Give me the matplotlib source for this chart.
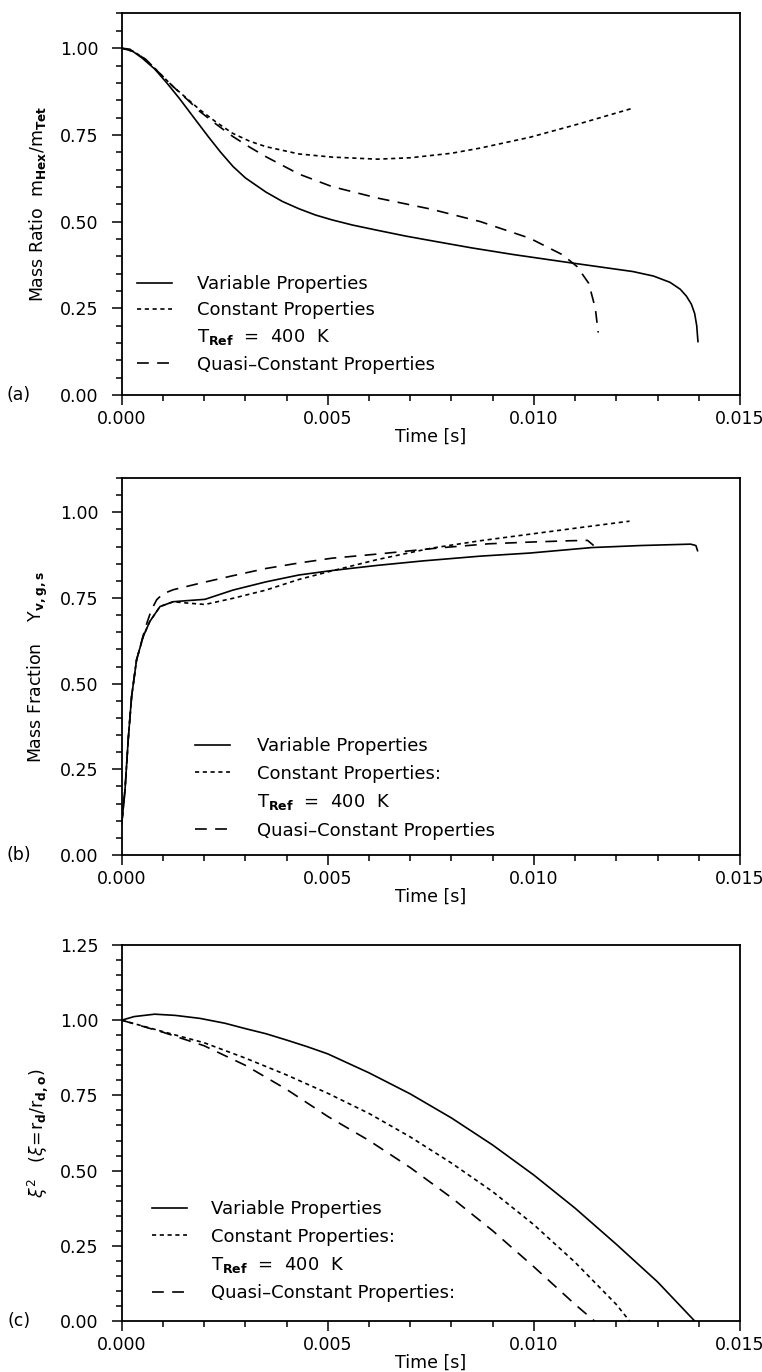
import matplotlib
matplotlib.use('Agg')
import matplotlib.pyplot as plt
from matplotlib.ticker import MultipleLocator, FormatStrFormatter
from matplotlib.lines import Line2D

# ---------------- data ----------------
# (a) mass ratio m_Hex/m_Tet
t_a_var = [0.0, 0.0002, 0.0005, 0.0008, 0.0011, 0.0014, 0.0018, 0.0021, 0.0024, 0.0027,
           0.0030, 0.0035, 0.0039, 0.0043, 0.0047, 0.0051, 0.0056, 0.0062, 0.0069, 0.0076,
           0.0085, 0.0095, 0.0109, 0.0124, 0.0129, 0.0133, 0.01355, 0.0137, 0.01382,
           0.0139, 0.01395, 0.01398]
y_a_var = [1.0, 0.997, 0.971, 0.940, 0.899, 0.855, 0.792, 0.745, 0.700, 0.659,
           0.626, 0.585, 0.558, 0.537, 0.519, 0.505, 0.490, 0.475, 0.458, 0.443,
           0.424, 0.405, 0.381, 0.356, 0.343, 0.325, 0.305, 0.285, 0.262,
           0.235, 0.200, 0.154]

t_a_con = [0.0, 0.0003, 0.0006, 0.0009, 0.00125, 0.0016, 0.0019, 0.0023, 0.0027, 0.0031,
           0.0035, 0.0043, 0.0051, 0.0062, 0.0070, 0.0080, 0.0087, 0.0099, 0.0111, 0.0124]
y_a_con = [1.0, 0.99, 0.966, 0.930, 0.889, 0.853, 0.822, 0.786, 0.754, 0.732,
           0.716, 0.695, 0.686, 0.680, 0.684, 0.697, 0.712, 0.743, 0.782, 0.827]

t_a_qc = [0.0, 0.0003, 0.0006, 0.0009, 0.00125, 0.0016, 0.0019, 0.0023, 0.0027, 0.0031,
          0.0035, 0.0043, 0.0051, 0.0062, 0.0075, 0.0087, 0.0099, 0.0107, 0.01105, 0.01133,
          0.01149, 0.01156]
y_a_qc = [1.0, 0.99, 0.966, 0.930, 0.889, 0.851, 0.817, 0.780, 0.745, 0.715,
          0.687, 0.637, 0.601, 0.568, 0.536, 0.500, 0.452, 0.404, 0.370, 0.322,
          0.250, 0.180]

# (b) mass fraction Y_v,g,s
t_b_var = [0.0, 0.00008, 0.00016, 0.00024, 0.00036, 0.00052, 0.00068, 0.00093, 0.00125, 0.00157,
           0.00202, 0.0027, 0.0035, 0.0043, 0.0051, 0.0062, 0.0073, 0.0087, 0.0099, 0.0114,
           0.0126, 0.0138, 0.01393, 0.01397]
y_b_var = [0.09, 0.19, 0.34, 0.462, 0.569, 0.637, 0.681, 0.725, 0.739, 0.742,
           0.746, 0.773, 0.797, 0.817, 0.830, 0.845, 0.858, 0.872, 0.881, 0.897,
           0.903, 0.907, 0.903, 0.888]

t_b_con = [0.0, 0.00008, 0.00016, 0.00024, 0.00036, 0.00052, 0.00068, 0.00093, 0.00125, 0.0016,
           0.00202, 0.0027, 0.0035, 0.0043, 0.0051, 0.0062, 0.0075, 0.0087, 0.0099, 0.0111,
           0.01232]
y_b_con = [0.09, 0.19, 0.34, 0.462, 0.569, 0.637, 0.681, 0.725, 0.739, 0.735,
           0.731, 0.749, 0.773, 0.804, 0.829, 0.862, 0.895, 0.917, 0.936, 0.955,
           0.974]

t_b_qc = [0.0, 0.00008, 0.00016, 0.00024, 0.00036, 0.00052, 0.00062, 0.00072, 0.00085, 0.001,
          0.00125, 0.0019, 0.0027, 0.0035, 0.0043, 0.0051, 0.0062, 0.0077, 0.0089, 0.0099,
          0.0109, 0.0113, 0.01145]
y_b_qc = [0.09, 0.19, 0.34, 0.462, 0.569, 0.640, 0.680, 0.715, 0.745, 0.762,
          0.774, 0.793, 0.815, 0.836, 0.852, 0.866, 0.878, 0.896, 0.908, 0.913,
          0.917, 0.918, 0.903]

# (c) xi^2
t_c_var = [0.0, 0.0003, 0.0008, 0.0013, 0.0019, 0.0025, 0.0030, 0.0035, 0.0040, 0.0045,
           0.0050, 0.0060, 0.0070, 0.0080, 0.0090, 0.0100, 0.0110, 0.0120, 0.0130, 0.0139]
y_c_var = [1.0, 1.012, 1.020, 1.016, 1.006, 0.990, 0.972, 0.955, 0.934, 0.912,
           0.888, 0.825, 0.755, 0.675, 0.585, 0.485, 0.375, 0.255, 0.130, 0.0]

t_c_con = [0.0, 0.0010, 0.0020, 0.0030, 0.0040, 0.0050, 0.0060, 0.0070, 0.0080, 0.0090,
           0.0100, 0.0110, 0.0120, 0.01232]
y_c_con = [1.0, 0.962, 0.925, 0.874, 0.818, 0.757, 0.690, 0.612, 0.525, 0.430,
           0.320, 0.195, 0.055, 0.0]

t_c_qc = [0.0, 0.0010, 0.0020, 0.0030, 0.0040, 0.0050, 0.0060, 0.0070, 0.0080, 0.0090,
          0.0100, 0.0110, 0.01147]
y_c_qc = [1.0, 0.960, 0.915, 0.850, 0.770, 0.680, 0.600, 0.510, 0.410, 0.300,
          0.180, 0.055, 0.0]

x_ticks = [0.000, 0.005, 0.010, 0.015]
ylims = [1.1, 1.1, 1.25]
panel_tags = ['(a)', '(b)', '(c)']
ylabels = [r'Mass Ratio  $\mathrm{m}_{\mathbf{Hex}}/\mathrm{m}_{\mathbf{Tet}}$',
           r'Mass Fraction    $\mathrm{Y}_{\mathbf{v,g,s}}$',
           r'$\xi^{2}$   ($\xi\!=\!\mathrm{r}_{\mathbf{d}}/\mathrm{r}_{\mathbf{d,o}}$)']
legend_labels = [
    ['Variable Properties', 'Constant Properties', r'T$_{\mathbf{Ref}}$  =  400  K',
     'Quasi\u2013Constant Properties'],
    ['Variable Properties', 'Constant Properties:', r'T$_{\mathbf{Ref}}$  =  400  K',
     'Quasi\u2013Constant Properties'],
    ['Variable Properties', 'Constant Properties:', r'T$_{\mathbf{Ref}}$  =  400  K',
     'Quasi\u2013Constant Properties:'],
]

# ---------------- style ----------------
plt.rcParams['font.family'] = ['DejaVu Sans']
plt.rcParams['mathtext.fontset'] = 'dejavusans'
plt.rcParams['lines.scale_dashes'] = False

FS = 12.5
FS_LEG = 13
LW = 1.2
DOT = (0, (3.0, 2.6))
DASH = (0, (8.5, 6.0))

W, H = 762, 1372
fig = plt.figure(figsize=(W / 100, H / 100), dpi=100)


def add_axes(l, t, r, b):
    return fig.add_axes([l / W, 1 - b / H, (r - l) / W, (b - t) / H])


L, R = 121.7, 740.0
boxes = [(13.5, 395.0), (478.0, 855.0), (945.0, 1321.0)]
axes = [add_axes(L, t, R, b) for (t, b) in boxes]

series = [
    (t_a_var, y_a_var, t_a_con, y_a_con, t_a_qc, y_a_qc),
    (t_b_var, y_b_var, t_b_con, y_b_con, t_b_qc, y_b_qc),
    (t_c_var, y_c_var, t_c_con, y_c_con, t_c_qc, y_c_qc),
]

legend_anchor = [(0.0247, 0.314), (0.1186, 0.312), (0.049, 0.321)]
legend_textpad = [1.4, 1.5, 1.3]
legend_spacing = [0.45, 0.52, 0.52]

for i, ax in enumerate(axes):
    tv, yv, tc, yc, tq, yq = series[i]
    ax.plot(tv, yv, color='black', lw=LW, linestyle='-')
    ax.plot(tc, yc, color='black', lw=LW, linestyle=DOT)
    ax.plot(tq, yq, color='black', lw=LW, linestyle=DASH)

    ax.set_xlim(0, 0.015)
    ax.set_ylim(0, ylims[i])
    ax.set_xticks(x_ticks)
    ax.xaxis.set_major_formatter(FormatStrFormatter('%.3f'))
    ax.xaxis.set_minor_locator(MultipleLocator(0.001))
    ax.yaxis.set_major_locator(MultipleLocator(0.25))
    ax.yaxis.set_major_formatter(FormatStrFormatter('%.2f'))
    ax.yaxis.set_minor_locator(MultipleLocator(0.05))
    ax.tick_params(axis='both', which='both', direction='out', top=False, right=False,
                   width=1.1, labelsize=FS)
    ax.tick_params(axis='both', which='major', length=7.5)
    ax.tick_params(axis='both', which='minor', length=4.5)
    ax.tick_params(axis='y', which='major', pad=9)
    ax.tick_params(axis='x', which='major', pad=3)
    for sp in ax.spines.values():
        sp.set_linewidth(1.3)

    handles = [Line2D([], [], color='black', lw=LW, linestyle='-'),
               Line2D([], [], color='black', lw=LW, linestyle=DOT),
               Line2D([], [], linestyle='none'),
               Line2D([], [], color='black', lw=LW, linestyle=DASH)]
    ax.legend(handles, legend_labels[i], loc='upper left', bbox_to_anchor=legend_anchor[i],
              frameon=False, fontsize=FS_LEG, borderpad=0, borderaxespad=0,
              handlelength=1.95, handletextpad=legend_textpad[i],
              labelspacing=legend_spacing[i])

    top, bot = boxes[i]
    fig.text(37.5 / W, 1 - ((top + bot) / 2) / H, ylabels[i], rotation=90,
             ha='center', va='center', fontsize=FS)
    fig.text(19 / W, 1 - bot / H, panel_tags[i], ha='center', va='center', fontsize=FS)
    fig.text(((L + R) / 2) / W, 1 - (bot + 42) / H, 'Time [s]', ha='center', va='center',
             fontsize=FS)

fig.savefig('out.png', dpi=100)
